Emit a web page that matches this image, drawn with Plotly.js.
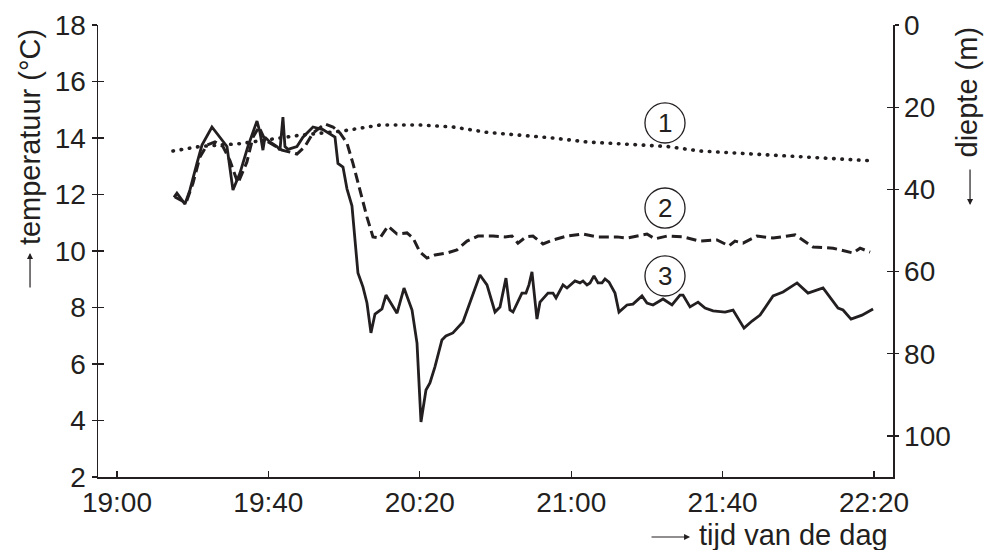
<!DOCTYPE html>
<html>
<head>
<meta charset="utf-8">
<script src="https://cdn.plot.ly/plotly-3.0.1.min.js"></script>
<style>
html,body{margin:0;padding:0;background:#fff;}
#chart{width:985px;height:550px;}
#chart .xy .scatterlayer .trace:first-child .js-line{stroke-linecap:round;}
</style>
</head>
<body>
<div id="chart"></div>
<script>
// ---- data (time of day, temperature in °C) ----
var day = "2000-01-01 ";

var timeSeries1 = ["19:14:48","19:21:56","19:32:30","19:48:21","19:59:43","20:09:29","20:20:03","20:28:45","20:37:45","20:46:28","20:55:11","21:04:10","21:12:06","21:25:18","21:34:01","21:47:14","22:00:30","22:19:44"];
var tempSeries1 = [13.54,13.7,13.8,14.1,14.25,14.46,14.46,14.39,14.2,14.1,14.0,13.86,13.79,13.7,13.54,13.43,13.33,13.19];

var timeSeries2 = ["19:15:19","19:18:14","19:20:05","19:21:56","19:23:47","19:25:53","19:28:00","19:29:51","19:31:58","19:34:20","19:35:56","19:37:31","19:39:06","19:41:13","19:43:36","19:45:43","19:47:33","19:49:40","19:51:47","19:54:57","19:57:04","19:58:55","20:00:46","20:02:21","20:03:40","20:06:03","20:07:38","20:09:29","20:11:36","20:13:59","20:16:37","20:18:13","20:20:03","20:21:54","20:24:00","20:27:11","20:29:49","20:32:28","20:35:22","20:39:20","20:42:30","20:44:21","20:45:56","20:48:03","20:49:54","20:52:33","20:55:11","20:58:53","21:03:07","21:06:49","21:12:06","21:14:44","21:20:01","21:22:08","21:25:18","21:29:32","21:34:01","21:38:31","21:41:41","21:43:16","21:45:23","21:49:05","21:53:19","21:59:08","22:03:54","22:09:11","22:14:28","22:16:19","22:18:57"];
var tempSeries2 = [11.91,11.7,12.4,13.33,13.75,13.86,13.7,13.2,12.4,13.15,14.03,14.39,13.93,13.75,13.57,13.5,13.43,13.7,14.18,14.5,14.39,14.18,13.82,13.1,12.4,11.2,10.5,10.46,10.88,10.6,10.64,10.46,9.96,9.75,9.86,9.93,10.04,10.35,10.53,10.53,10.5,10.53,10.28,10.5,10.53,10.25,10.39,10.53,10.6,10.5,10.5,10.46,10.6,10.43,10.53,10.5,10.35,10.39,10.18,10.35,10.28,10.53,10.46,10.57,10.14,10.1,9.93,10.1,9.96];

var timeSeries3 = ["19:15:04","19:15:51","19:17:58","19:19:17","19:21:08","19:22:28","19:25:06","19:27:44","19:29:04","19:30:39","19:32:30","19:34:36","19:37:00","19:37:47","19:38:34","19:39:06","19:40:25","19:42:16","19:43:04","19:43:51","19:44:23","19:45:11","19:47:33","19:49:08","19:51:47","19:54:25","19:57:04","19:57:36","19:58:23","19:59:43","20:00:46","20:02:05","20:03:40","20:04:59","20:06:03","20:07:06","20:08:10","20:10:01","20:11:04","20:13:59","20:15:50","20:17:57","20:19:16","20:20:19","20:21:38","20:22:41","20:24:00","20:25:51","20:26:54","20:28:45","20:31:24","20:35:53","20:37:45","20:39:52","20:41:11","20:42:46","20:43:49","20:44:37","20:46:59","20:48:03","20:48:50","20:49:38","20:50:57","20:51:45","20:53:52","20:55:11","20:55:59","20:57:50","20:58:53","21:01:00","21:02:19","21:03:07","21:04:10","21:04:58","21:06:01","21:07:05","21:08:08","21:08:56","21:09:59","21:11:34","21:12:37","21:14:44","21:16:19","21:18:42","21:20:01","21:21:36","21:24:15","21:26:37","21:28:44","21:29:32","21:31:23","21:33:30","21:35:21","21:37:28","21:40:38","21:42:45","21:45:39","21:47:46","21:49:53","21:53:19","21:55:57","21:59:39","22:02:33","22:06:31","22:10:29","22:11:48","22:13:55","22:16:49","22:19:44"];
var tempSeries3 = [11.9,12.05,11.66,12.16,13.1,13.75,14.39,13.93,13.7,12.16,12.76,13.7,14.6,14.2,13.57,14.03,13.86,13.7,13.57,14.74,13.7,13.6,13.7,14.03,14.39,14.3,14.1,14.03,13.1,12.97,12.2,11.6,9.22,8.73,8.16,7.1,7.77,7.95,8.44,7.8,8.69,7.91,6.74,3.95,5.08,5.33,5.9,6.85,6.99,7.1,7.49,9.15,8.8,7.84,8.02,9.04,7.91,7.84,8.51,8.51,8.8,9.26,7.59,8.19,8.51,8.51,8.34,8.8,8.69,8.94,8.87,8.94,8.8,8.87,9.12,8.87,8.87,9.01,8.9,8.51,7.84,8.09,8.12,8.41,8.16,8.09,8.3,8.09,8.44,8.44,8.02,8.19,7.98,7.88,7.84,7.91,7.27,7.52,7.73,8.41,8.55,8.87,8.51,8.69,7.98,7.91,7.59,7.73,7.95];

var xTickTimes = ["19:00","19:40","20:20","21:00","21:40","22:20"];
var tempTicks = [2,4,6,8,10,12,14,16,18];
var depthTicks = [0,20,40,60,80,100];
var seriesLabels = ["1","2","3"];

// ---- styling ----
var ink = "#231f20";
var fontFam = "Liberation Sans, Arial, Helvetica, sans-serif";
function full(arr){ return arr.map(function(t){ return day + t; }); }

var traces = [
  {x: full(timeSeries1), y: tempSeries1, mode: "lines", line: {color: ink, width: 3.6, dash: "0.5px,7.8px"}, hoverinfo: "skip"},
  {x: full(timeSeries2), y: tempSeries2, mode: "lines", line: {color: ink, width: 3, dash: "10px,5px"}, hoverinfo: "skip"},
  {x: full(timeSeries3), y: tempSeries3, mode: "lines", line: {color: ink, width: 2.8}, hoverinfo: "skip"},
  // invisible helpers so the extra axes (right depth scale, crossing ticks) are drawn
  {x: full(xTickTimes), y: depthTicks, yaxis: "y2", mode: "markers", marker: {opacity: 0}, hoverinfo: "skip"},
  {x: full(xTickTimes), y: tempTicks, yaxis: "y3", mode: "markers", marker: {opacity: 0}, hoverinfo: "skip"},
  {x: full(xTickTimes), y: depthTicks, yaxis: "y4", mode: "markers", marker: {opacity: 0}, hoverinfo: "skip"}
];

var tickFont = {family: fontFam, size: 28, color: ink};
var titleFont = {family: fontFam, size: 29, color: ink};

// label circle positions (paper coords)
var circX = 0.7132, circY = [0.7832, 0.5951, 0.4447], rx = 0.0252, ry = 0.0443;
var shapes = [], annotations = [];
seriesLabels.forEach(function(lbl, i){
  shapes.push({type: "circle", xref: "paper", yref: "paper", x0: circX - rx, x1: circX + rx, y0: circY[i] - ry, y1: circY[i] + ry, line: {color: ink, width: 1.3}});
  annotations.push({xref: "paper", yref: "paper", x: circX, y: circY[i], text: lbl, showarrow: false, font: {family: fontFam, size: 26, color: ink}, xanchor: "center", yanchor: "middle"});
});

// axis titles
annotations.push({xref: "paper", yref: "paper", x: -0.0855, y: 0.752, text: "temperatuur (°C)", textangle: -90, showarrow: false, font: titleFont, xanchor: "center", yanchor: "middle"});
annotations.push({xref: "paper", yref: "paper", x: -0.0855, y: 0.4956, ax: 0, ay: 36, axref: "pixel", ayref: "pixel", text: "", showarrow: true, arrowhead: 2, arrowsize: 1, arrowwidth: 1.2, arrowcolor: ink, standoff: 0});
annotations.push({xref: "paper", yref: "paper", x: 1.0931, y: 0.8507, text: "diepte (m)", textangle: -90, showarrow: false, font: titleFont, xanchor: "center", yanchor: "middle", borderpad: 0});
annotations.push({xref: "paper", yref: "paper", x: 1.0969, y: 0.6018, ax: 0, ay: -37, axref: "pixel", ayref: "pixel", text: "", showarrow: true, arrowhead: 2, arrowsize: 1, arrowwidth: 1.2, arrowcolor: ink, standoff: 0});
annotations.push({xref: "paper", yref: "paper", x: 0.996, y: -0.128, text: "tijd van de dag", showarrow: false, font: titleFont, xanchor: "right", yanchor: "middle"});
annotations.push({xref: "paper", yref: "paper", x: 0.7447, y: -0.1327, ax: -40, ay: 0, axref: "pixel", ayref: "pixel", text: "", showarrow: true, arrowhead: 2, arrowsize: 1, arrowwidth: 1.2, arrowcolor: ink, standoff: 0});

var layout = {
  width: 985, height: 550,
  margin: {l: 98, r: 92, t: 25, b: 73},
  paper_bgcolor: "#fff", plot_bgcolor: "#fff",
  showlegend: false,
  xaxis: {
    type: "date", range: [day + "18:55", day + "22:25"],
    tickvals: full(xTickTimes), ticktext: xTickTimes,
    ticks: "inside", ticklen: 6, tickwidth: 1.3, tickcolor: ink,
    showline: true, linewidth: 1.5, linecolor: ink,
    showgrid: false, zeroline: false, tickfont: tickFont, fixedrange: true
  },
  yaxis: {
    range: [2, 18], tickvals: tempTicks,
    ticks: "outside", ticklen: 5, tickwidth: 1.3, tickcolor: ink,
    showline: true, linewidth: 1.5, linecolor: ink,
    showgrid: false, zeroline: false, tickfont: tickFont, fixedrange: true
  },
  yaxis3: {
    overlaying: "y", side: "left", anchor: "x",
    range: [2, 18], tickvals: tempTicks,
    ticks: "inside", ticklen: 6, tickwidth: 1.3, tickcolor: ink,
    showticklabels: false, showline: false, showgrid: false, zeroline: false, fixedrange: true
  },
  yaxis2: {
    overlaying: "y", side: "right", anchor: "x",
    range: [110, 0], tickvals: depthTicks,
    ticks: "outside", ticklen: 4, tickwidth: 1.3, tickcolor: ink,
    showline: true, linewidth: 1.5, linecolor: ink,
    showgrid: false, zeroline: false, tickfont: tickFont, fixedrange: true
  },
  yaxis4: {
    overlaying: "y", side: "right", anchor: "x",
    range: [110, 0], tickvals: depthTicks,
    ticks: "inside", ticklen: 6, tickwidth: 1.3, tickcolor: ink,
    showticklabels: false, showline: false, showgrid: false, zeroline: false, fixedrange: true
  },
  shapes: shapes,
  annotations: annotations
};

Plotly.newPlot("chart", traces, layout, {displayModeBar: false, staticPlot: true});
</script>
</body>
</html>
